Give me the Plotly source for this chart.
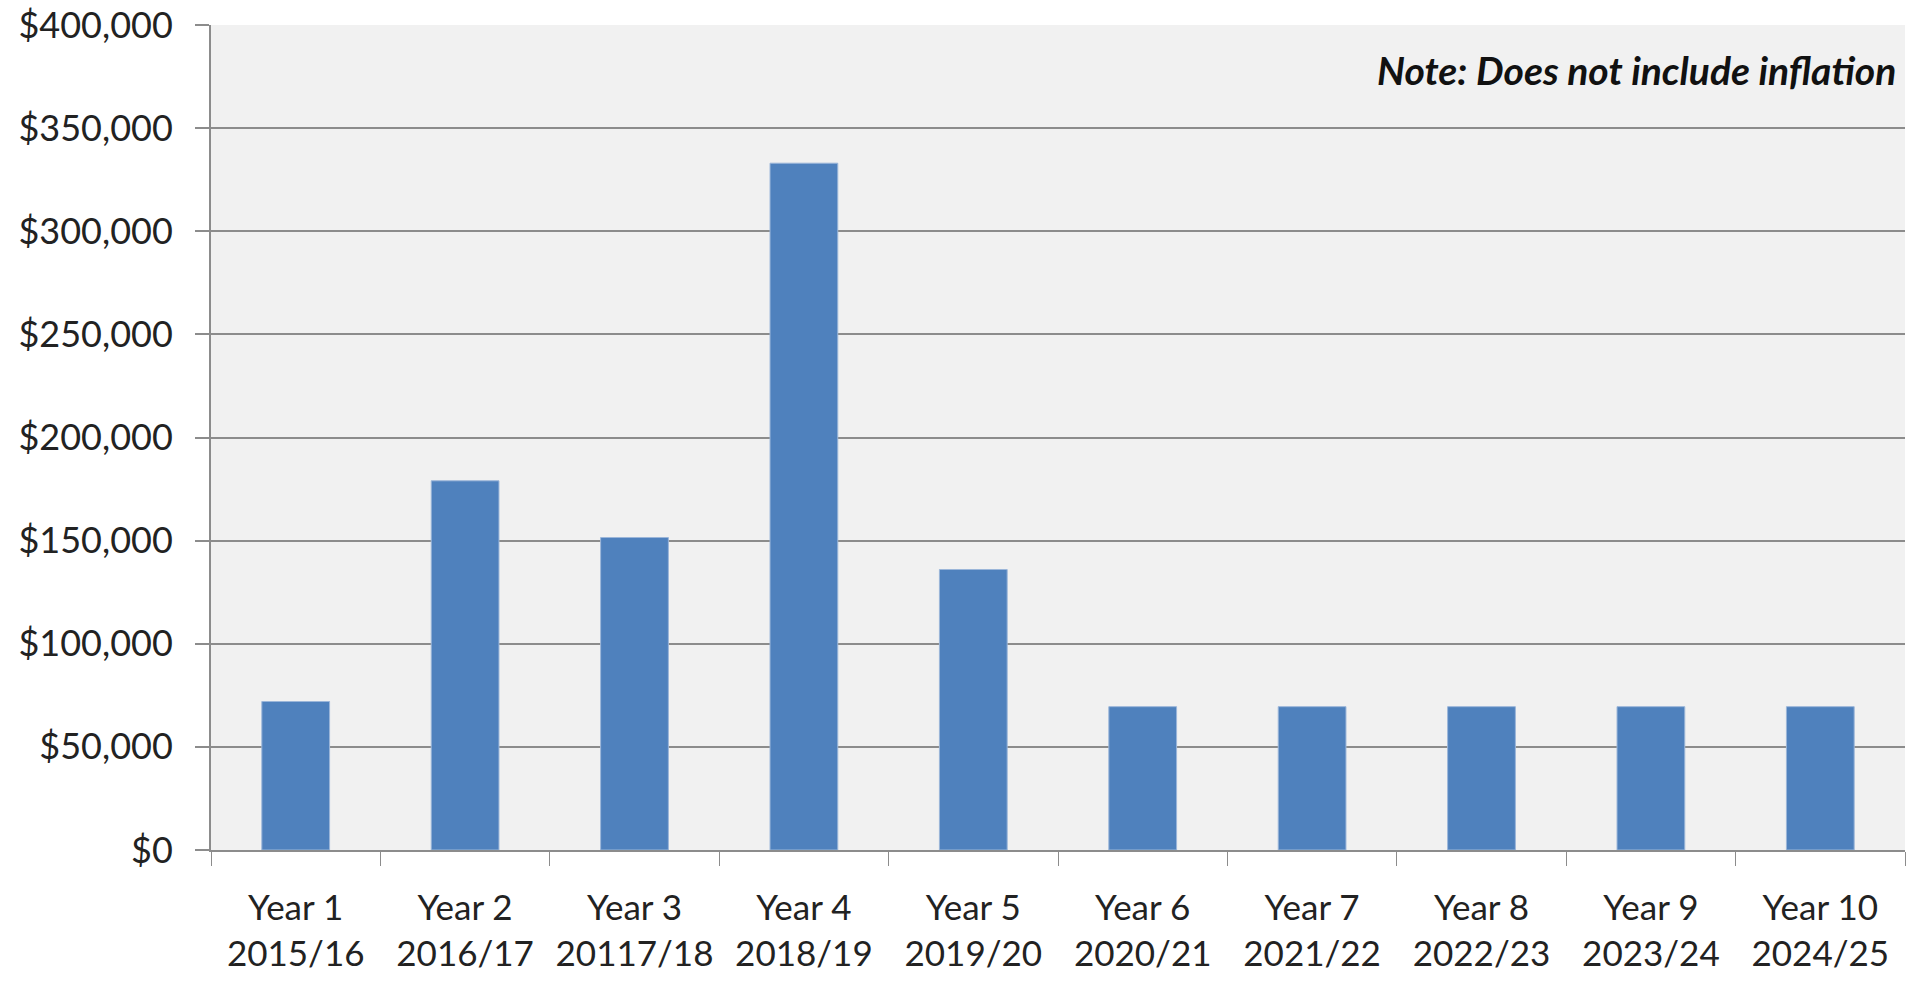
import plotly.graph_objects as go

years = ["Year 1", "Year 2", "Year 3", "Year 4", "Year 5",
         "Year 6", "Year 7", "Year 8", "Year 9", "Year 10"]
periods = ["2015/16", "2016/17", "20117/18", "2018/19", "2019/20",
           "2020/21", "2021/22", "2022/23", "2023/24", "2024/25"]
values = [72000, 179000, 151500, 333000, 136000,
          69500, 69500, 69500, 69500, 69500]
y_ticks = [0, 50000, 100000, 150000, 200000, 250000, 300000, 350000, 400000]
y_tick_labels = ["$0", "$50,000", "$100,000", "$150,000", "$200,000",
                 "$250,000", "$300,000", "$350,000", "$400,000"]
note = "Note: Does not include inflation"

categories = [f"{y}<br>{p}" for y, p in zip(years, periods)]

FONT = "Lato"

fig = go.Figure(go.Bar(
    x=categories, y=values,
    marker=dict(color="#4f81bd", line=dict(color="#9bb6d9", width=1)),
))

fig.update_layout(
    width=1921, height=981,
    margin=dict(l=211, r=16, t=25, b=131),
    plot_bgcolor="#f1f1f1", paper_bgcolor="white",
    bargap=0.6, showlegend=False,
    font=dict(family=FONT, size=37, color="#222"),
    annotations=[dict(
        text=f"<b><i>{note}</i></b>", xref="paper", yref="paper",
        x=0.996, y=0.946, xanchor="right", yanchor="middle",
        showarrow=False, font=dict(family=FONT, size=39, color="#111"),
    )],
)

fig.update_xaxes(
    automargin=False, tickangle=0,
    showgrid=False, showline=True, linecolor="#8c8c8c", linewidth=2,
    ticks="outside", ticklen=14, tickcolor="#8c8c8c", tickwidth=1,
    tickson="boundaries", ticklabelstandoff=26,
    tickfont=dict(family=FONT, size=35, color="#222"),
)
fig.update_yaxes(
    automargin=False,
    range=[0, 400000], tickmode="array", tickvals=y_ticks, ticktext=y_tick_labels,
    showgrid=True, gridcolor="#8c8c8c", gridwidth=2,
    showline=True, linecolor="#8c8c8c", linewidth=2,
    ticks="outside", ticklen=14, tickcolor="#8c8c8c", tickwidth=2,
    ticklabelstandoff=15, zeroline=False,
    tickfont=dict(family=FONT, size=36, color="#222"),
)

fig.write_html("out.html")
